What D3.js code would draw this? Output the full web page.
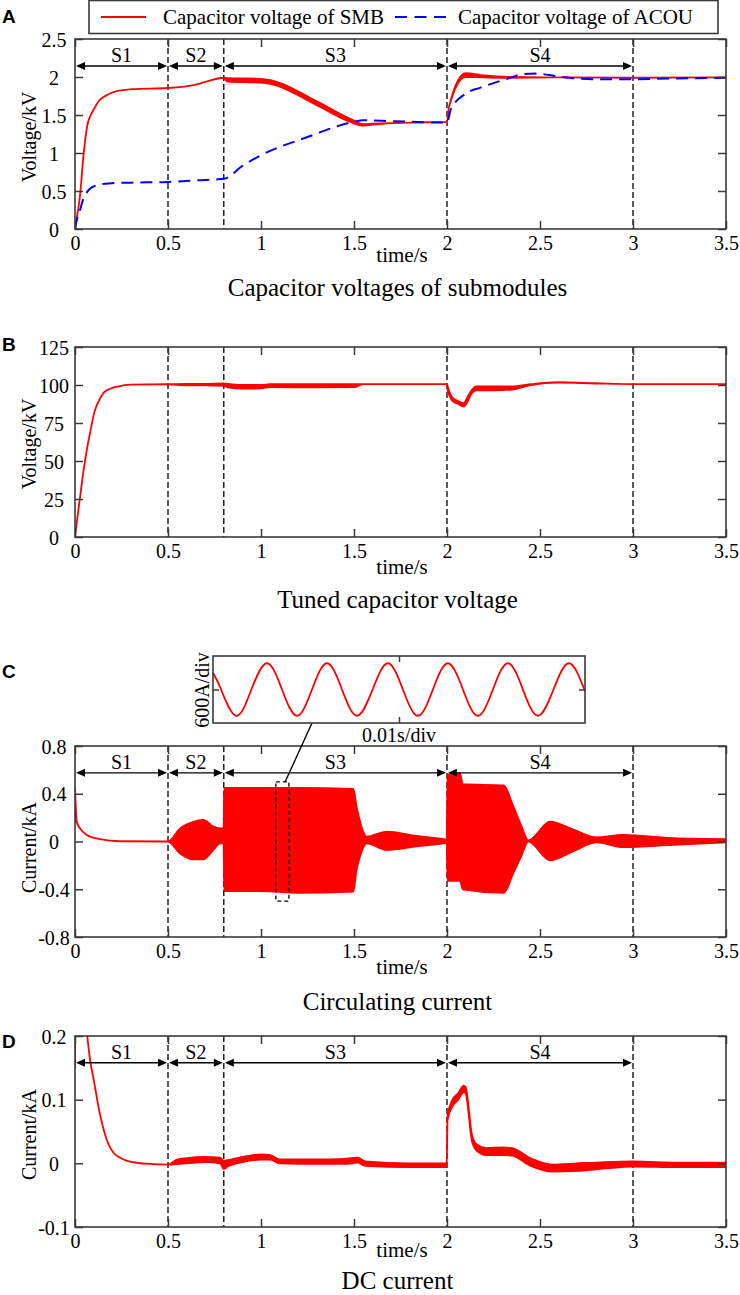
<!DOCTYPE html>
<html>
<head>
<meta charset="utf-8">
<script src="https://cdn.jsdelivr.net/npm/d3@7"></script>
<style>
  body { margin: 0; background: #fff; }
  svg text { font-family: "Liberation Serif", "Times New Roman", serif; fill: #000; }
  svg text.letter { font-family: "Liberation Sans", Arial, sans-serif; font-weight: bold; }
</style>
</head>
<body>
<script>

// shared time axis and stages
const xTicks = [0, 0.5, 1, 1.5, 2, 2.5, 3, 3.5];
const stageNames = ["S1", "S2", "S3", "S4"];
const stageBounds = [0, 0.5, 0.8, 2, 3];
const dashTimes = [0.5, 0.8, 2, 3];

// A: capacitor voltages of submodules (kV)
const aTicks = [0, 0.5, 1, 1.5, 2, 2.5];
const smbT  = [0, 0.01, 0.027, 0.045, 0.066, 0.085, 0.1, 0.13, 0.17, 0.22, 0.31, 0.5, 0.65, 0.72, 0.8, 0.82, 1.0, 1.05, 1.3, 1.48, 1.55, 1.6, 1.8, 2.0, 2.01, 2.1, 2.2, 2.35, 2.6, 3.0, 3.5];
const smbHi = [0, 0.15, 0.44, 0.95, 1.36, 1.5, 1.57, 1.69, 1.76, 1.81, 1.84, 1.855, 1.9, 1.95, 1.99, 1.985, 1.975, 1.96, 1.68, 1.45, 1.38, 1.385, 1.4, 1.41, 1.6, 2.05, 2.02, 2.0, 1.995, 1.99, 1.995];
const smbLo = [0, 0.15, 0.44, 0.95, 1.36, 1.5, 1.57, 1.69, 1.76, 1.81, 1.84, 1.855, 1.9, 1.95, 1.99, 1.94, 1.925, 1.91, 1.63, 1.41, 1.36, 1.375, 1.4, 1.41, 1.6, 2.0, 1.995, 1.99, 1.995, 1.99, 1.995];
const acouT = [0, 0.01, 0.027, 0.045, 0.06, 0.08, 0.11, 0.18, 0.3, 0.5, 0.65, 0.8, 0.9, 1.0, 1.25, 1.5, 1.55, 1.7, 2.0, 2.02, 2.1, 2.18, 2.25, 2.34, 2.41, 2.48, 2.59, 2.7, 2.84, 3.0, 3.2, 3.5];
const acouV = [0, 0.12, 0.25, 0.4, 0.47, 0.53, 0.57, 0.6, 0.61, 0.62, 0.64, 0.66, 0.83, 0.97, 1.21, 1.41, 1.43, 1.42, 1.4, 1.57, 1.78, 1.86, 1.92, 1.99, 2.04, 2.045, 2.01, 1.98, 1.97, 1.97, 1.98, 1.99];

// B: tuned capacitor voltage (kV)
const bTicks = [0, 25, 50, 75, 100, 125];
const tunedT  = [0, 0.01, 0.027, 0.045, 0.066, 0.085, 0.104, 0.13, 0.155, 0.19, 0.23, 0.3, 0.5, 0.6, 0.7, 0.8, 0.82, 0.9, 1.0, 1.05, 1.3, 1.5, 1.55, 2.0, 2.005, 2.03, 2.06, 2.09, 2.11, 2.135, 2.16, 2.25, 2.35, 2.45, 2.6, 2.8, 3.0, 3.5];
const tunedHi = [0, 10, 26, 43, 59, 71, 82, 90, 95, 97.5, 99, 100.2, 100.5, 100.7, 100.7, 101, 100.8, 100, 100, 100.5, 100.5, 100.5, 100.6, 100.6, 98.5, 91.5, 89.5, 88, 92, 97, 99, 99, 99, 100.5, 101.8, 101.2, 100.6, 100.6];
const tunedLo = [0, 10, 26, 43, 59, 71, 82, 90, 95, 97.5, 99, 100.2, 100.5, 99.8, 99.8, 99.5, 98.5, 97.6, 97.8, 98.6, 98.4, 98.6, 100.6, 100.6, 96, 89.5, 87.5, 85.8, 89, 95, 96.5, 96.5, 97, 100, 101.5, 101, 100.6, 100.6];

// C: circulating current (kA), envelope of the oscillation
const cTicks = [-0.8, -0.4, 0, 0.4, 0.8];
const circT  = [0, 0.004, 0.009, 0.027, 0.063, 0.134, 0.24, 0.5, 0.565, 0.636, 0.69, 0.744, 0.78, 0.799, 0.802, 1.0, 1.2, 1.496, 1.514, 1.532, 1.55, 1.568, 1.676, 1.837, 1.98, 1.998, 2.003, 2.07, 2.085, 2.305, 2.355, 2.4, 2.437, 2.554, 2.68, 2.805, 2.946, 3.215, 3.5];
const circHi = [0.45, 0.3, 0.17, 0.11, 0.055, 0.02, 0.002, 0, 0.11, 0.165, 0.18, 0.125, 0.11, 0.11, 0.45, 0.45, 0.45, 0.44, 0.29, 0.17, 0.08, 0.04, 0.083, 0.047, 0.02, 0.015, 0.56, 0.57, 0.48, 0.47, 0.3, 0.13, 0.01, 0.166, 0.1, 0.035, 0.055, 0.028, 0.02];
const circLo = [0.17, 0.2, 0.165, 0.11, 0.055, 0.02, 0.002, 0, -0.1, -0.15, -0.15, -0.07, -0.015, -0.015, -0.415, -0.415, -0.43, -0.42, -0.235, -0.125, -0.05, -0.015, -0.07, -0.04, -0.015, -0.01, -0.33, -0.33, -0.4, -0.43, -0.27, -0.12, 0, -0.157, -0.08, -0.008, -0.047, -0.028, -0.007];
const zoomBoxT = [1.08, 1.15];
const zoomBoxI = [-0.5, 0.5];

// C inset: 0.01 s/div, 600 A/div
const insetT = [0, 0.0027, 0.0077, 0.0128, 0.018, 0.023, 0.028, 0.033, 0.038, 0.043, 0.048, 0.0532, 0.0583, 0.0633, 0.0683, 0.0733, 0.0783, 0.0833, 0.0883, 0.0933, 0.0983, 0.1033, 0.1083, 0.1135, 0.1187, 0.124];
const insetI = [0.3, 0, -0.47, 0, 0.47, 0, -0.47, 0, 0.47, 0, -0.47, 0, 0.47, 0, -0.47, 0, 0.47, 0, -0.47, 0, 0.47, 0, -0.47, 0, 0.47, -0.03];

// D: DC current (kA)
const dTicks = [-0.1, 0, 0.1, 0.2];
const dcT  = [0, 0.003, 0.066, 0.079, 0.104, 0.13, 0.155, 0.18, 0.206, 0.24, 0.28, 0.4, 0.5, 0.55, 0.6, 0.7, 0.78, 0.8, 0.82, 0.9, 1.0, 1.05, 1.1, 1.3, 1.45, 1.52, 1.56, 1.8, 1.998, 2.003, 2.03, 2.06, 2.09, 2.1, 2.134, 2.159, 2.21, 2.3, 2.35, 2.45, 2.565, 2.7, 2.85, 3.0, 3.25, 3.5];
const dcHi = [0.15, 0.45, 0.2, 0.167, 0.126, 0.083, 0.052, 0.03, 0.017, 0.009, 0.004, -0.001, -0.002, 0.006, 0.008, 0.01, 0.009, 0.004, 0.005, 0.01, 0.014, 0.013, 0.006, 0.006, 0.007, 0.009, 0.003, 0, 0, 0.075, 0.1, 0.11, 0.122, 0.12, 0.045, 0.03, 0.024, 0.025, 0.024, 0.008, -0.002, 0, 0.002, 0.003, 0.001, 0.001];
const dcLo = [0.15, 0.45, 0.2, 0.167, 0.126, 0.083, 0.052, 0.03, 0.017, 0.009, 0.004, -0.001, -0.002, -0.001, 0, 0.002, 0, -0.009, -0.005, 0.002, 0.006, 0.006, 0, -0.001, -0.001, 0.001, -0.004, -0.006, -0.006, 0.068, 0.09, 0.1, 0.112, 0.11, 0.035, 0.02, 0.013, 0.013, 0.012, -0.004, -0.013, -0.012, -0.008, -0.005, -0.006, -0.006];


const W = 740, H = 1295;
const L = 75, R = 726;
const red = "#ff0000", blue = "#0000ff", frameColor = "#3a3a3a";
const fmt = d => String(d);

const svg = d3.select("body").append("svg")
	.attr("width", W)
	.attr("height", H);

// all four panels share the time scale
const x = d3.scaleLinear().domain([0, 3.5]).range([L, R]);

function drawPanel(p) {
	const y = d3.scaleLinear().domain(p.domain).range([p.bottom, p.top]);
	const g = svg.append("g");

	g.append("clipPath").attr("id", "clip-" + p.letter)
		.append("rect")
		.attr("x", L).attr("y", p.top)
		.attr("width", R - L).attr("height", p.bottom - p.top);

	// stage boundaries
	g.append("g").selectAll("line")
		.data(dashTimes)
		.join("line")
		.attr("x1", d => x(d)).attr("x2", d => x(d))
		.attr("y1", p.top).attr("y2", p.bottom)
		.attr("stroke", "#000")
		.attr("stroke-width", 1.3)
		.attr("stroke-dasharray", "6,3");

	const plot = g.append("g").attr("clip-path", "url(#clip-" + p.letter + ")");

	// red traces drawn as envelope bands (thick where the signal ripples)
	p.bands.forEach(function (b) {
		const rows = b.t.map((t, i) => ({t: t, hi: b.hi[i], lo: b.lo[i]}));
		plot.append("path")
			.datum(rows)
			.attr("d", d3.area().curve(d3.curveMonotoneX)
				.x(d => x(d.t)).y0(d => y(d.lo)).y1(d => y(d.hi)))
			.attr("fill", red)
			.attr("stroke", red)
			.attr("stroke-width", 1.8)
			.attr("stroke-linejoin", "round");
	});

	(p.lines || []).forEach(function (s) {
		const rows = s.t.map((t, i) => ({t: t, v: s.v[i]}));
		plot.append("path")
			.datum(rows)
			.attr("d", d3.line().curve(d3.curveMonotoneX).x(d => x(d.t)).y(d => y(d.v)))
			.attr("fill", "none")
			.attr("stroke", s.color)
			.attr("stroke-width", 2)
			.attr("stroke-dasharray", s.dash);
	});

	// stage arrows S1..S4
	if (p.arrowAt != null) {
		const ay = y(p.arrowAt);
		const stages = stageNames.map((n, i) => ({name: n, x0: x(stageBounds[i]), x1: x(stageBounds[i + 1])}));
		const sg = g.append("g");
		sg.selectAll("line").data(stages).join("line")
			.attr("x1", d => d.x0 + 3).attr("x2", d => d.x1 - 3)
			.attr("y1", ay).attr("y2", ay)
			.attr("stroke", "#000").attr("stroke-width", 1.4);
		sg.selectAll("path.l").data(stages).join("path").attr("class", "l")
			.attr("d", d => `M${d.x0 + 1},${ay}L${d.x0 + 10},${ay - 4}L${d.x0 + 10},${ay + 4}Z`)
			.attr("fill", "#000");
		sg.selectAll("path.r").data(stages).join("path").attr("class", "r")
			.attr("d", d => `M${d.x1 - 1},${ay}L${d.x1 - 10},${ay - 4}L${d.x1 - 10},${ay + 4}Z`)
			.attr("fill", "#000");
		sg.selectAll("text").data(stages).join("text")
			.attr("x", d => (d.x0 + d.x1) / 2)
			.attr("y", ay - 4)
			.attr("text-anchor", "middle")
			.attr("font-size", 20)
			.text(d => d.name);
	}

	// inward ticks on all four sides, labels left and bottom
	const bx = g.append("g").attr("transform", "translate(0," + p.bottom + ")")
		.call(d3.axisBottom(x).tickValues(xTicks).tickSize(-8).tickPadding(7).tickFormat(fmt));
	g.append("g").attr("transform", "translate(0," + p.top + ")")
		.call(d3.axisTop(x).tickValues(xTicks).tickSize(-8).tickFormat(""));
	const ly = g.append("g").attr("transform", "translate(" + L + ",0)")
		.call(d3.axisLeft(y).tickValues(p.ticks).tickSize(-8).tickPadding(21).tickFormat(fmt));
	g.append("g").attr("transform", "translate(" + R + ",0)")
		.call(d3.axisRight(y).tickValues(p.ticks).tickSize(-8).tickFormat(""));

	g.selectAll(".domain").remove();
	g.selectAll(".tick line").attr("stroke", frameColor).attr("stroke-width", 1.5);
	bx.attr("font-size", 20).selectAll("text").attr("fill", "#000");
	ly.attr("font-size", 20).selectAll("text")
		.attr("fill", "#000")
		.attr("text-anchor", "middle")
		.attr("dy", "0.36em");

	g.append("rect")
		.attr("x", L).attr("y", p.top)
		.attr("width", R - L).attr("height", p.bottom - p.top)
		.attr("fill", "none")
		.attr("stroke", frameColor)
		.attr("stroke-width", 1.6);

	g.append("text")
		.attr("transform", "translate(36," + ((p.top + p.bottom) / 2 + p.labelShift) + ") rotate(-90)")
		.attr("text-anchor", "middle")
		.attr("font-size", 20)
		.text(p.yLabel);

	g.append("text")
		.attr("x", 402)
		.attr("y", p.bottom + p.timeDy + 7)
		.attr("text-anchor", "middle")
		.attr("font-size", 21)
		.text("time/s");

	g.append("text")
		.attr("x", 397.5)
		.attr("y", p.titleY)
		.attr("text-anchor", "middle")
		.attr("font-size", 25)
		.text(p.title);

	g.append("text")
		.attr("class", "letter")
		.attr("x", 2)
		.attr("y", p.letterY)
		.attr("font-size", 19)
		.text(p.letter);

	return y;
}

drawPanel({
	letter: "A", letterY: 23, top: 39, bottom: 229,
	domain: [0, 2.5], ticks: aTicks, yLabel: "Voltage/kV", labelShift: 3,
	timeDy: 26, title: "Capacitor voltages of submodules", titleY: 296, arrowAt: 2.145,
	bands: [{t: smbT, hi: smbHi, lo: smbLo}],
	lines: [{t: acouT, v: acouV, color: blue, dash: "12,7"}]
});

// legend of panel A
const leg = svg.append("g");
leg.append("rect")
	.attr("x", 89).attr("y", 0.5).attr("width", 629).attr("height", 33)
	.attr("fill", "#fff").attr("stroke", frameColor).attr("stroke-width", 1.6);
leg.append("line").attr("x1", 101).attr("x2", 146).attr("y1", 17).attr("y2", 17)
	.attr("stroke", red).attr("stroke-width", 2);
leg.append("text").attr("x", 163).attr("y", 24).attr("font-size", 21).text("Capacitor voltage of SMB");
leg.append("line").attr("x1", 395).attr("x2", 446).attr("y1", 17).attr("y2", 17)
	.attr("stroke", blue).attr("stroke-width", 2).attr("stroke-dasharray", "12,7.5");
leg.append("text").attr("x", 458).attr("y", 24).attr("font-size", 21).text("Capacitor voltage of ACOU");

drawPanel({
	letter: "B", letterY: 351, top: 347, bottom: 537,
	domain: [0, 125], ticks: bTicks, yLabel: "Voltage/kV", labelShift: 2,
	timeDy: 30, title: "Tuned capacitor voltage", titleY: 608, arrowAt: null,
	bands: [{t: tunedT, hi: tunedHi, lo: tunedLo}]
});

const yC = drawPanel({
	letter: "C", letterY: 678, top: 746, bottom: 937,
	domain: [-0.8, 0.8], ticks: cTicks, yLabel: "Current/kA", labelShift: 6,
	timeDy: 30, title: "Circulating current", titleY: 1010, arrowAt: 0.575,
	bands: [{t: circT, hi: circHi, lo: circLo}]
});

// zoomed window and the inset it points to
const insetX = d3.scaleLinear().domain([0, 0.124]).range([213, 585]);
const insetY = d3.scaleLinear().domain([-0.6, 0.6]).range([723, 656]);

svg.append("rect")
	.attr("x", x(zoomBoxT[0])).attr("y", yC(zoomBoxI[1]))
	.attr("width", x(zoomBoxT[1]) - x(zoomBoxT[0]))
	.attr("height", yC(zoomBoxI[0]) - yC(zoomBoxI[1]))
	.attr("fill", "none").attr("stroke", "#000").attr("stroke-width", 1.3)
	.attr("stroke-dasharray", "4,3");
svg.append("line")
	.attr("x1", x(1.13)).attr("y1", yC(zoomBoxI[1]))
	.attr("x2", insetX(0.033)).attr("y2", insetY(-0.6))
	.attr("stroke", "#000").attr("stroke-width", 1.4);

const inset = svg.append("g");
inset.append("rect")
	.attr("x", 213).attr("y", 656).attr("width", 372).attr("height", 67)
	.attr("fill", "#fff");
inset.append("path")
	.datum(insetT.map((t, i) => ({t: t, v: insetI[i]})))
	.attr("d", d3.line().curve(d3.curveNatural).x(d => insetX(d.t)).y(d => insetY(d.v)))
	.attr("fill", "none").attr("stroke", red).attr("stroke-width", 1.8);
inset.append("g").attr("transform", "translate(0,723)")
	.call(d3.axisBottom(insetX).tickValues([0.062]).tickSize(-6).tickFormat(""));
inset.append("g").attr("transform", "translate(0,656)")
	.call(d3.axisTop(insetX).tickValues([0.062]).tickSize(-6).tickFormat(""));
inset.append("g").attr("transform", "translate(213,0)")
	.call(d3.axisLeft(insetY).tickValues([0]).tickSize(-6).tickFormat(""));
inset.append("g").attr("transform", "translate(585,0)")
	.call(d3.axisRight(insetY).tickValues([0]).tickSize(-6).tickFormat(""));
inset.selectAll(".domain").remove();
inset.selectAll(".tick line").attr("stroke", frameColor).attr("stroke-width", 1.5);
inset.append("rect")
	.attr("x", 213).attr("y", 656).attr("width", 372).attr("height", 67)
	.attr("fill", "none").attr("stroke", frameColor).attr("stroke-width", 1.6);
inset.append("text")
	.attr("transform", "translate(209,690) rotate(-90)")
	.attr("text-anchor", "middle").attr("font-size", 20)
	.text("600A/div");
inset.append("text")
	.attr("x", 399).attr("y", 742)
	.attr("text-anchor", "middle").attr("font-size", 20)
	.text("0.01s/div");

drawPanel({
	letter: "D", letterY: 1048, top: 1036, bottom: 1227,
	domain: [-0.1, 0.2], ticks: dTicks, yLabel: "Current/kA", labelShift: 3,
	timeDy: 23, title: "DC current", titleY: 1289, arrowAt: 0.158,
	bands: [{t: dcT, hi: dcHi, lo: dcLo}]
});

</script>
</body>
</html>
